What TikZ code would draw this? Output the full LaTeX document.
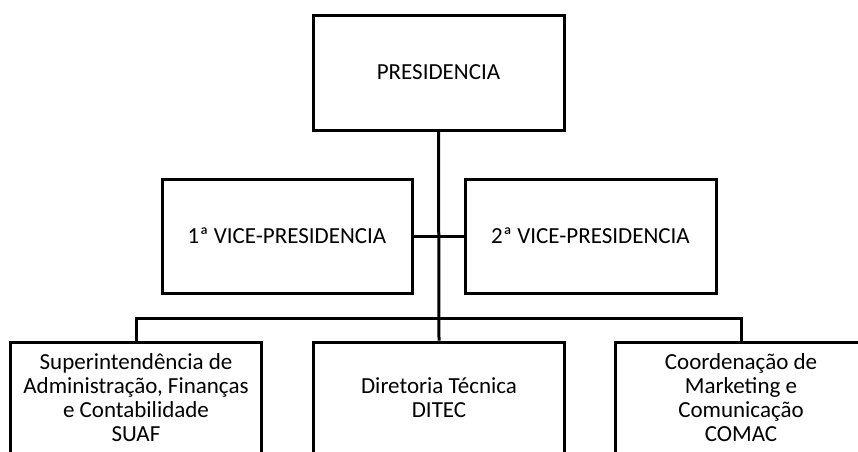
\documentclass[tikz,border=0pt]{standalone}
\usepackage{fontspec}
\setmainfont{Carlito}
\tikzset{
  orgbox/.style={draw=black, line width=3pt, align=center, inner sep=0pt,
    minimum width=251pt, font=\fontsize{23}{24}\selectfont},
  orgline/.style={black, line width=3pt}
}
\begin{document}
\begin{tikzpicture}[x=1pt,y=-1pt]
\useasboundingbox (0,0) rectangle (858,451);
\clip (0,0) rectangle (858,451);
\node[orgbox, minimum height=115pt] (pres) at (438.5,72.5) {PRESIDENCIA};
\node[orgbox, minimum width=250pt, minimum height=114pt] (vp1) at (287,236) {1ª VICE-PRESIDENCIA};
\node[orgbox, minimum width=251pt, minimum height=114pt] (vp2) at (590.5,236) {2ª VICE-PRESIDENCIA};
\node[orgbox, minimum height=112pt] (suaf) at (136,398) {Superintendência de\\Administração, Finanças\\e Contabilidade\\SUAF};
\node[orgbox, minimum height=112pt] (ditec) at (439,398) {Diretoria Técnica\\DITEC};
\node[orgbox, minimum height=112pt] (comac) at (741,398) {Coordenação de\\Marketing e\\Comunicação\\COMAC};
\coordinate (bar) at (439,318);
\draw[orgline] (pres.south) -- (ditec.north);
\draw[orgline] (vp1.east) -- (vp2.west);
\draw[orgline] (suaf.north) |- (bar) -| (comac.north);
\end{tikzpicture}
\end{document}
